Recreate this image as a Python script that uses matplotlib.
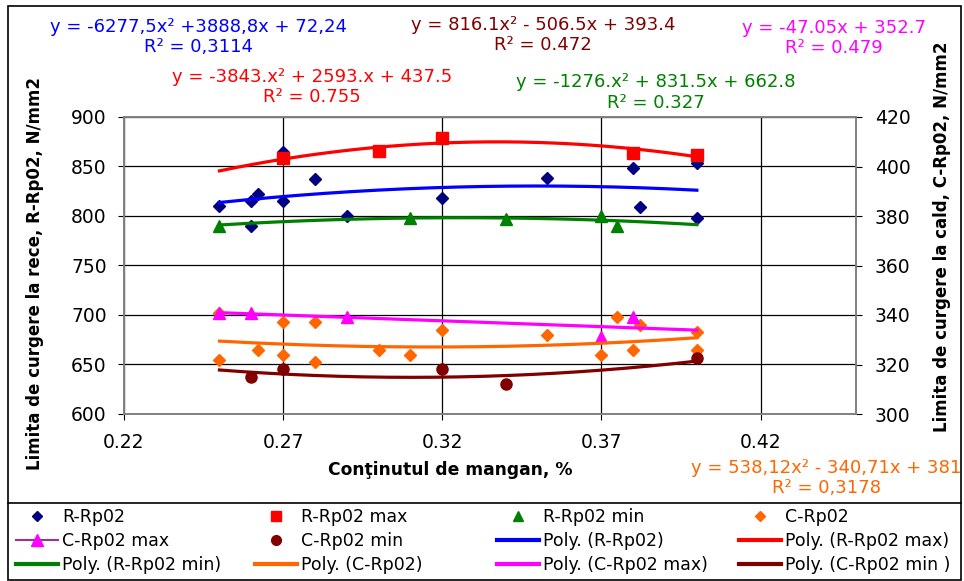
import numpy as np
import matplotlib.pyplot as plt
from matplotlib.lines import Line2D
from matplotlib.patches import Rectangle

plt.rcParams['font.family'] = ['DejaVu Sans']

# --- data ---
# cold yield strength R-Rp02 (left axis, N/mm2)
r_x = [0.25, 0.26, 0.26, 0.262, 0.27, 0.27, 0.28, 0.29, 0.32, 0.353, 0.38, 0.382, 0.40, 0.40]
r_y = [810, 815, 790, 822, 865, 815, 837, 800, 818, 838, 848, 809, 854, 798]
rmax_x = [0.27, 0.30, 0.32, 0.38, 0.40]
rmax_y = [859, 866, 879, 864, 862]
rmin_x = [0.25, 0.31, 0.34, 0.37, 0.375]
rmin_y = [790, 798, 797, 800, 790]

# hot yield strength C-Rp02 (right axis, N/mm2)
c_x = [0.25, 0.25, 0.262, 0.27, 0.27, 0.28, 0.28, 0.30, 0.31, 0.32, 0.353, 0.37, 0.375, 0.38, 0.382, 0.40, 0.40]
c_y = [341, 322, 326, 337, 324, 337, 321, 326, 324, 334, 332, 324, 339, 326, 336, 333, 326]
cmax_x = [0.25, 0.26, 0.29, 0.37, 0.38]
cmax_y = [341, 341, 339, 331, 339]
cmin_x = [0.26, 0.27, 0.32, 0.34, 0.40]
cmin_y = [315, 318, 318, 312, 322.5]

# trendline coefficients as printed on the chart
rmax_coef = [-3843, 2593, 437.5]
rmin_coef = [-1276, 831.5, 662.8]
c_coef = [538.12, -340.71, 381]
cmax_coef = [-47.05, 352.7]
cmin_coef = [816.1, -506.5, 393.4]

x_ticks = [0.22, 0.27, 0.32, 0.37, 0.42]
left_ticks = [600, 650, 700, 750, 800, 850, 900]
right_ticks = [300, 320, 340, 360, 380, 400, 420]

W, H = 964, 581


def fx(px):
    return px / W


def fy(py):
    return 1 - py / H


fig = plt.figure(figsize=(W / 100, H / 100), dpi=100)
ax = fig.add_axes([fx(124), fy(414), (856 - 124) / W, (414 - 117) / H])
ax2 = ax.twinx()

# markers
ax.plot(r_x, r_y, 'D', color='#000080', ms=6, ls='none', zorder=3)
ax.plot(rmax_x, rmax_y, 's', color='#FF0000', ms=8, ls='none', zorder=3)
ax.plot(rmin_x, rmin_y, '^', color='#008000', ms=8, ls='none', zorder=3)
ax2.plot(c_x, c_y, 'D', color='#FF6600', ms=6, ls='none', zorder=3)
ax2.plot(cmax_x, cmax_y, '^', color='#FF00FF', ms=8, ls='none', zorder=3)
ax2.plot(cmin_x, cmin_y, 'o', color='#800000', ms=8, ls='none', zorder=3)

# trendlines
xt = np.linspace(0.25, 0.40, 200)
r_coef = np.polyfit(r_x, r_y, 2)
ax.plot(xt, np.polyval(r_coef, xt), color='#0000FF', lw=2.3, zorder=4)
ax.plot(xt, np.polyval(rmax_coef, xt), color='#FF0000', lw=2.3, zorder=4)
ax.plot(xt, np.polyval(rmin_coef, xt), color='#008000', lw=2.3, zorder=4)
ax2.plot(xt, np.polyval(c_coef, xt), color='#FF6600', lw=2.3, zorder=4)
ax2.plot(xt, np.polyval(cmax_coef, xt), color='#FF00FF', lw=2.3, zorder=4)
ax2.plot(xt, np.polyval(cmin_coef, xt), color='#800000', lw=2.3, zorder=4)

ax.set_xlim(0.22, 0.45)
ax.set_ylim(600, 900)
ax2.set_ylim(300, 420)
ax.set_xticks(x_ticks)
ax.set_xticklabels(['%.2f' % v for v in x_ticks])
ax.set_yticks(left_ticks)
ax2.set_yticks(right_ticks)
ax.grid(True, color='black', lw=0.9)
ax.set_axisbelow(True)
for a in (ax, ax2):
    for s in a.spines.values():
        s.set_color('#808080')
        s.set_linewidth(1.2)
ax.tick_params(axis='x', direction='out', length=4.5, pad=9, labelsize=13.5, color='black')
ax.tick_params(axis='y', direction='out', length=4.5, pad=8, labelsize=13.5, color='black')
ax2.tick_params(axis='y', direction='out', length=4.5, pad=9, labelsize=13.5, color='black')

# axis titles
fig.text(fx(450), fy(470), 'Conţinutul de mangan, %', ha='center', va='center',
         fontsize=12.3, fontweight='bold')
fig.text(fx(35), fy(273), 'Limita de curgere la rece, R-Rp02, N/mm2', ha='center', va='center',
         rotation=90, fontsize=12, fontweight='bold')
fig.text(fx(942), fy(237), 'Limita de curgere la cald, C-Rp02, N/mm2', ha='center', va='center',
         rotation=90, fontsize=12, fontweight='bold')

# trendline equations
eqs = [
    ('y = -6277,5x² +3888,8x + 72,24', 'R² = 0,3114', '#0000FF', 198, 27, 47),
    ('y = 816.1x² - 506.5x + 393.4', 'R² = 0.472', '#800000', 543, 25, 45),
    ('y = -47.05x + 352.7', 'R² = 0.479', '#FF00FF', 834, 28, 48),
    ('y = -3843.x² + 2593.x + 437.5', 'R² = 0.755', '#FF0000', 312, 77, 97),
    ('y = -1276.x² + 831.5x + 662.8', 'R² = 0.327', '#008000', 656, 82, 103),
    ('y = 538,12x² - 340,71x + 381', 'R² = 0,3178', '#FF6600', 826, 468, 488),
]
for l1, l2, col, cx, y1, y2 in eqs:
    fig.text(fx(cx), fy(y1), l1, color=col, ha='center', va='center', fontsize=13)
    fig.text(fx(cx), fy(y2), l2, color=col, ha='center', va='center', fontsize=13)

# outer border and legend separator
fig.add_artist(Rectangle((fx(8), fy(580)), (961 - 8) / W, (580 - 6) / H,
                         transform=fig.transFigure, fill=False, ec='black', lw=1.2))
fig.add_artist(Line2D([fx(8), fx(961)], [fy(503), fy(503)], transform=fig.transFigure,
                      color='black', lw=1.2))

# legend, row-major like the original, one legend per column
h = {
    'R-Rp02': Line2D([], [], marker='D', color='#000080', ls='none', ms=5),
    'R-Rp02 max': Line2D([], [], marker='s', color='#FF0000', ls='none', ms=7),
    'R-Rp02 min': Line2D([], [], marker='^', color='#008000', ls='none', ms=7),
    'C-Rp02': Line2D([], [], marker='D', color='#FF6600', ls='none', ms=5),
    'C-Rp02 max': Line2D([], [], marker='^', color='#993399', mfc='#FF00FF', mec='#FF00FF', lw=1.5, ms=8),
    'C-Rp02 min': Line2D([], [], marker='o', color='#800000', ls='none', ms=7),
    'Poly. (R-Rp02)': Line2D([], [], color='#0000FF', lw=3),
    'Poly. (R-Rp02 max)': Line2D([], [], color='#FF0000', lw=3),
    'Poly. (R-Rp02 min)': Line2D([], [], color='#008000', lw=3),
    'Poly. (C-Rp02)': Line2D([], [], color='#FF6600', lw=3),
    'Poly. (C-Rp02 max)': Line2D([], [], color='#FF00FF', lw=3),
    'Poly. (C-Rp02 min )': Line2D([], [], color='#800000', lw=3),
}
order = list(h.keys())
col_x = [16, 255, 497, 739]
for c in range(4):
    labels = [order[c], order[c + 4], order[c + 8]]
    fig.legend([h[k] for k in labels], labels, loc='upper left',
               bbox_to_anchor=(fx(col_x[c]), fy(508)), frameon=False,
               fontsize=12.5, handlelength=2.4, handletextpad=0.25,
               labelspacing=0.36, borderpad=0, borderaxespad=0)

fig.savefig('out.png', dpi=100)
